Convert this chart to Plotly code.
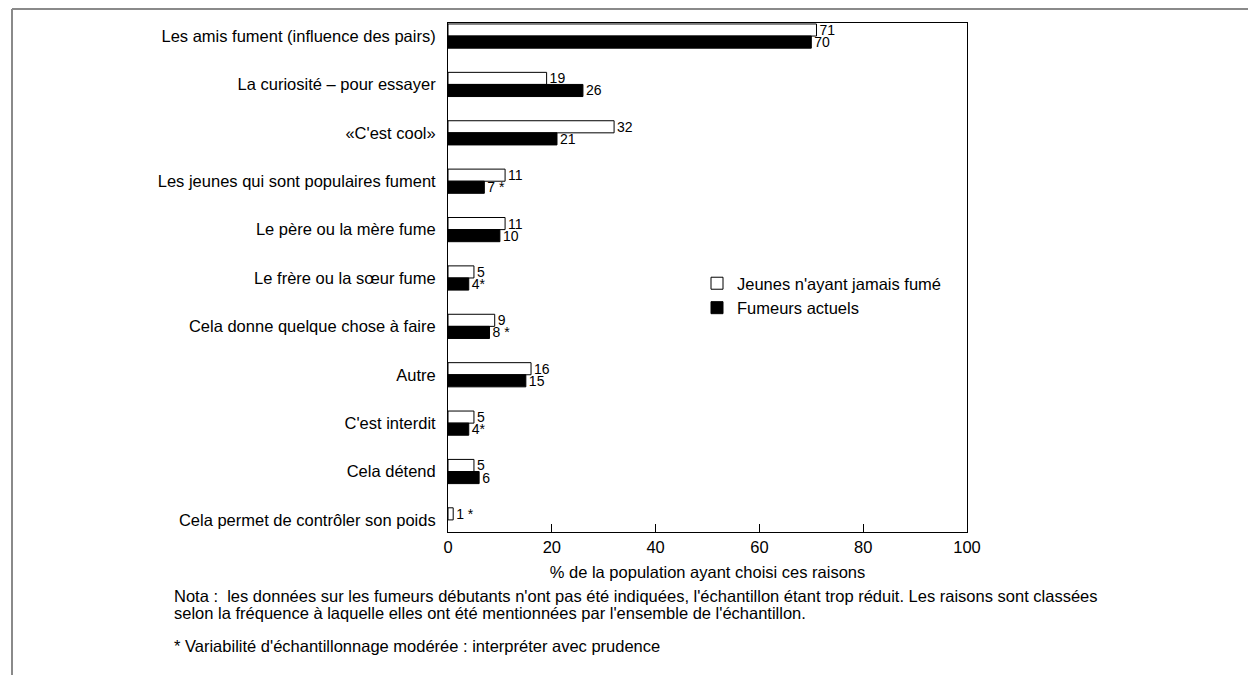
import plotly.graph_objects as go

categories = [
    "Les amis fument (influence des pairs)",
    "La curiosité – pour essayer",
    "«C'est cool»",
    "Les jeunes qui sont populaires fument",
    "Le père ou la mère fume",
    "Le frère ou la sœur fume",
    "Cela donne quelque chose à faire",
    "Autre",
    "C'est interdit",
    "Cela détend",
    "Cela permet de contrôler son poids",
]
never_smoked = [71, 19, 32, 11, 11, 5, 9, 16, 5, 5, 1]
never_labels = ["71", "19", "32", "11", "11", "5", "9", "16", "5", "5", "1 *"]
current_smokers = [70, 26, 21, 7, 10, 4, 8, 15, 4, 6, None]
current_labels = ["70", "26", "21", "7 *", "10", "4*", "8 *", "15", "4*", "6", ""]
x_ticks = [0, 20, 40, 60, 80, 100]

FONT = "Liberation Sans, Arial, sans-serif"
FS = 16.5

W, H = 1248, 675
ml, mr, mt, mb = 448, 281, 23, 143

fig = go.Figure()
fig.add_trace(go.Bar(
    y=categories, x=never_smoked, orientation="h",
    name="Jeunes n'ayant jamais fumé",
    marker=dict(color="white", line=dict(color="black", width=1)),
    text=never_labels, textposition="outside", cliponaxis=False,
    constraintext="none",
    textfont=dict(size=14, color="black", family=FONT),
))
fig.add_trace(go.Bar(
    y=categories, x=current_smokers, orientation="h",
    name="Fumeurs actuels",
    marker=dict(color="black", line=dict(color="black", width=1)),
    text=current_labels, textposition="outside", cliponaxis=False,
    constraintext="none",
    textfont=dict(size=14, color="black", family=FONT),
))

pw = W - ml - mr
ph = H - mt - mb

fig.update_layout(
    width=W, height=H,
    margin=dict(l=ml, r=mr, t=mt, b=mb, pad=0),
    paper_bgcolor="white", plot_bgcolor="white",
    barmode="group", bargap=0.5, bargroupgap=0,
    font=dict(family=FONT, size=FS, color="black"),
    showlegend=True,
    legend=dict(
        x=(697 - ml) / pw, y=(H - mb - 266) / ph, xanchor="left", yanchor="top",
        bgcolor="rgba(0,0,0,0)", font=dict(size=FS, family=FONT),
        itemwidth=30, tracegroupgap=0, traceorder="normal",
    ),
    xaxis=dict(
        range=[0, 100], tickvals=x_ticks, ticks="inside", ticklen=8,
        tickcolor="black", showline=True, linecolor="black", linewidth=1,
        mirror=True, showgrid=False, zeroline=False,
        tickfont=dict(size=FS),
        title=dict(text="% de la population ayant choisi ces raisons",
                   font=dict(size=FS), standoff=11),
    ),
    yaxis=dict(
        autorange=False, range=[10.25, -0.27], ticks="", showline=True,
        linecolor="black", linewidth=1, mirror=True, showgrid=False,
        ticklabelstandoff=8, tickfont=dict(size=FS),
    ),
)

# outer gray frame (top and left edges)
x_left = (12 - ml) / pw
x_right = (W - ml) / pw
y_top = (H - mb - 9) / ph
y_bottom = (H - mb - H) / ph
fig.add_shape(type="line", xref="paper", yref="paper",
              x0=x_left, x1=x_right, y0=y_top, y1=y_top,
              line=dict(color="#8a8a8a", width=2))
fig.add_shape(type="line", xref="paper", yref="paper",
              x0=x_left, x1=x_left, y0=y_top, y1=y_bottom,
              line=dict(color="#8a8a8a", width=2))

notes = [
    ("Nota :  les données sur les fumeurs débutants n'ont pas été indiquées, l'échantillon étant trop réduit. Les raisons sont classées", 596),
    ("selon la fréquence à laquelle elles ont été mentionnées par l'ensemble de l'échantillon.", 613),
    ("* Variabilité d'échantillonnage modérée : interpréter avec prudence", 646),
]
for txt, ypx in notes:
    fig.add_annotation(
        text=txt, xref="paper", yref="paper",
        x=(172 - ml) / pw, y=(H - mb - ypx) / ph,
        xanchor="left", yanchor="middle", showarrow=False, align="left",
        font=dict(size=16.5, family=FONT, color="black"),
    )

fig.write_html("out.html", config={"displayModeBar": False},
               post_script="document.body.style.margin='0';")
